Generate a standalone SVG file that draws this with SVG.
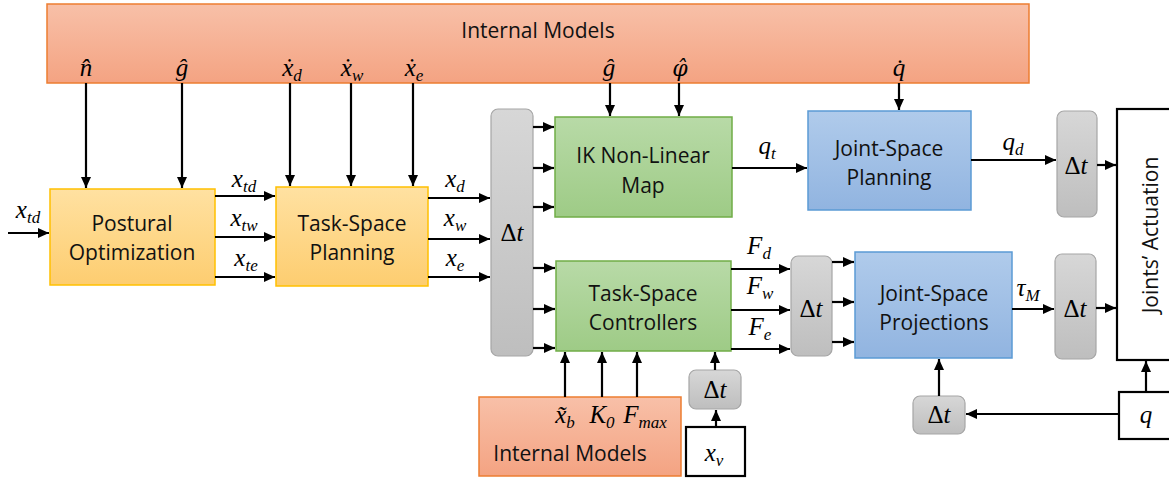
<svg xmlns="http://www.w3.org/2000/svg" width="1169" height="478" viewBox="0 0 1169 478">
<defs>
<linearGradient id="gOr" x1="0" y1="0" x2="0" y2="1"><stop offset="0" stop-color="#F8C0A8"/><stop offset="1" stop-color="#F4A382"/></linearGradient>
<linearGradient id="gYe" x1="0" y1="0" x2="0" y2="1"><stop offset="0" stop-color="#FFE1A1"/><stop offset="1" stop-color="#FDCD70"/></linearGradient>
<linearGradient id="gGr" x1="0" y1="0" x2="0" y2="1"><stop offset="0" stop-color="#B8DAA7"/><stop offset="1" stop-color="#9ECB86"/></linearGradient>
<linearGradient id="gBl" x1="0" y1="0" x2="0" y2="1"><stop offset="0" stop-color="#B0CBEB"/><stop offset="1" stop-color="#91B4E0"/></linearGradient>
<linearGradient id="gGy" x1="0" y1="0" x2="0" y2="1"><stop offset="0" stop-color="#D7D7D7"/><stop offset="1" stop-color="#BEBEBE"/></linearGradient>
<marker id="ah" markerUnits="userSpaceOnUse" markerWidth="12" markerHeight="12" refX="11" refY="5" orient="auto"><path d="M0,0 L11,5 L0,10 z" fill="#000"/></marker>
<style>
.or{fill:url(#gOr);stroke:#ED7D31;stroke-width:1.5}
.ye{fill:url(#gYe);stroke:#FFC000;stroke-width:1.5}
.gr{fill:url(#gGr);stroke:#70AD47;stroke-width:1.5}
.bl{fill:url(#gBl);stroke:#5B9BD5;stroke-width:1.5}
.gy{fill:url(#gGy);stroke:#A6A6A6;stroke-width:1.2}
.wb{fill:#fff;stroke:#000;stroke-width:2.2}
.t{font-family:"Open Sans","Liberation Sans",sans-serif;font-size:21px;fill:#111;text-anchor:middle}
.m{font-family:"Liberation Serif","DejaVu Serif",serif;font-style:italic;font-size:25px;fill:#000;text-anchor:middle}
.s{font-size:17px}
.u{font-style:normal}
.c line{stroke:#000;stroke-width:2.2;marker-end:url(#ah)}
</style>
</defs>

<g id="internal-models-top"><rect class="or" x="47" y="4" width="982" height="79"/><text class="t" x="538" y="38">Internal Models</text>
<text class="m" x="86" y="76">n̂</text>
<text class="m" x="182" y="76">ĝ</text>
<text class="m" x="292" y="76">ẋ<tspan class="s" dy="5">d</tspan></text>
<text class="m" x="352" y="76">ẋ<tspan class="s" dy="5">w</tspan></text>
<text class="m" x="414" y="76">ẋ<tspan class="s" dy="5">e</tspan></text>
<text class="m" x="609" y="76">ĝ</text>
<text class="m" x="680" y="76" style="font-family:'DejaVu Serif',serif;font-size:22px">φ̂</text>
<text class="m" x="899" y="76">q̇</text>
</g>

<g id="postural"><rect class="ye" x="50" y="189" width="165" height="96"/><text class="t" x="132" y="231">Postural</text><text class="t" x="132" y="260">Optimization</text></g>
<g id="task-space-planning"><rect class="ye" x="276" y="187" width="152" height="99"/><text class="t" x="352" y="231">Task-Space</text><text class="t" x="352" y="260">Planning</text></g>
<g id="dt-tall"><rect class="gy" x="491" y="109" width="42" height="247" rx="7"/><text class="m" x="512" y="241"><tspan class="u">Δ</tspan>t</text></g>
<g id="ik-map"><rect class="gr" x="555" y="117" width="177" height="100"/><text class="t" x="643" y="163">IK Non-Linear</text><text class="t" x="643" y="193">Map</text></g>
<g id="task-space-controllers"><rect class="gr" x="556" y="261" width="175" height="90"/><text class="t" x="643" y="301">Task-Space</text><text class="t" x="643" y="330">Controllers</text></g>
<g id="joint-space-planning"><rect class="bl" x="808" y="111" width="163" height="99"/><text class="t" x="889" y="156">Joint-Space</text><text class="t" x="889" y="185">Planning</text></g>
<g id="dt-qd"><rect class="gy" x="1057" y="111" width="40" height="106" rx="7"/><text class="m" x="1076" y="174"><tspan class="u">Δ</tspan>t</text></g>
<g id="dt-forces"><rect class="gy" x="791" y="256" width="41" height="100" rx="7"/><text class="m" x="811" y="317"><tspan class="u">Δ</tspan>t</text></g>
<g id="joint-space-projections"><rect class="bl" x="855" y="252" width="157" height="106"/><text class="t" x="934" y="301">Joint-Space</text><text class="t" x="934" y="330">Projections</text></g>
<g id="dt-tau"><rect class="gy" x="1055" y="254" width="41" height="105" rx="7"/><text class="m" x="1075" y="317"><tspan class="u">Δ</tspan>t</text></g>
<g id="joints-actuation"><rect class="wb" x="1117" y="109" width="60" height="251"/><text class="t" transform="translate(1158,235) rotate(-90)">Joints’ Actuation</text></g>
<g id="q-box"><rect class="wb" x="1119" y="392" width="60" height="47"/><text class="m" x="1146" y="423">q</text></g>
<g id="dt-q"><rect class="gy" x="913" y="396" width="52" height="38" rx="7"/><text class="m" x="939" y="423"><tspan class="u">Δ</tspan>t</text></g>
<g id="internal-models-bottom"><rect class="or" x="479" y="397" width="202" height="79"/><text class="t" x="570" y="461">Internal Models</text>
<text class="m" x="565" y="423">x̃<tspan class="s" dy="5">b</tspan></text>
<text class="m" x="602" y="423">K<tspan class="s" dy="5">0</tspan></text>
<text class="m" x="645" y="423">F<tspan class="s" dy="5">max</tspan></text>
</g>
<g id="dt-xv"><rect class="gy" x="689" y="370" width="52" height="39" rx="7"/><text class="m" x="715" y="398"><tspan class="u">Δ</tspan>t</text></g>
<g id="xv-box"><rect class="wb" x="686" y="427" width="59" height="49"/><text class="m" x="714" y="461">x<tspan class="s" dy="5">v</tspan></text></g>

<g id="labels">
<text class="m" x="28" y="218">x<tspan class="s" dy="5">td</tspan></text>
<text class="m" x="244" y="187">x<tspan class="s" dy="5">td</tspan></text>
<text class="m" x="244" y="226">x<tspan class="s" dy="5">tw</tspan></text>
<text class="m" x="246" y="266">x<tspan class="s" dy="5">te</tspan></text>
<text class="m" x="455" y="187">x<tspan class="s" dy="5">d</tspan></text>
<text class="m" x="455" y="226">x<tspan class="s" dy="5">w</tspan></text>
<text class="m" x="455" y="266">x<tspan class="s" dy="5">e</tspan></text>
<text class="m" x="767" y="154">q<tspan class="s" dy="5">t</tspan></text>
<text class="m" x="1013" y="150">q<tspan class="s" dy="5">d</tspan></text>
<text class="m" x="759" y="254">F<tspan class="s" dy="5">d</tspan></text>
<text class="m" x="760" y="294">F<tspan class="s" dy="5">w</tspan></text>
<text class="m" x="760" y="335">F<tspan class="s" dy="5">e</tspan></text>
<text class="m" x="1028" y="296">τ<tspan class="s" dy="5">M</tspan></text>
</g>

<g id="connectors" class="c">
<line x1="86" y1="83" x2="86" y2="188"/>
<line x1="182" y1="83" x2="182" y2="188"/>
<line x1="290" y1="83" x2="290" y2="186"/>
<line x1="351" y1="83" x2="351" y2="186"/>
<line x1="413" y1="83" x2="413" y2="186"/>
<line x1="610" y1="83" x2="610" y2="116"/>
<line x1="679" y1="83" x2="679" y2="116"/>
<line x1="899" y1="83" x2="899" y2="110"/>
<line x1="8" y1="233" x2="49" y2="233"/>
<line x1="215" y1="196" x2="275" y2="196"/>
<line x1="215" y1="237" x2="275" y2="237"/>
<line x1="215" y1="277" x2="275" y2="277"/>
<line x1="428" y1="198" x2="490" y2="198"/>
<line x1="428" y1="239" x2="490" y2="239"/>
<line x1="428" y1="277" x2="490" y2="277"/>
<line x1="533" y1="127" x2="554" y2="127"/>
<line x1="533" y1="168" x2="554" y2="168"/>
<line x1="533" y1="207" x2="554" y2="207"/>
<line x1="533" y1="268" x2="555" y2="268"/>
<line x1="533" y1="309" x2="555" y2="309"/>
<line x1="533" y1="348" x2="555" y2="348"/>
<line x1="732" y1="168" x2="807" y2="168"/>
<line x1="971" y1="160" x2="1056" y2="160"/>
<line x1="1097" y1="165" x2="1116" y2="165"/>
<line x1="731" y1="269" x2="790" y2="269"/>
<line x1="731" y1="310" x2="790" y2="310"/>
<line x1="731" y1="349" x2="790" y2="349"/>
<line x1="832" y1="262" x2="854" y2="262"/>
<line x1="832" y1="302" x2="854" y2="302"/>
<line x1="832" y1="342" x2="854" y2="342"/>
<line x1="1012" y1="309" x2="1054" y2="309"/>
<line x1="1096" y1="308" x2="1116" y2="308"/>
<line x1="1146" y1="392" x2="1146" y2="361"/>
<line x1="1119" y1="414" x2="966" y2="414"/>
<line x1="939" y1="396" x2="939" y2="359"/>
<line x1="565" y1="397" x2="565" y2="352"/>
<line x1="602" y1="397" x2="602" y2="352"/>
<line x1="637" y1="397" x2="637" y2="352"/>
<line x1="715" y1="370" x2="715" y2="352"/>
<line x1="716" y1="427" x2="716" y2="410"/>
</g>
</svg>
